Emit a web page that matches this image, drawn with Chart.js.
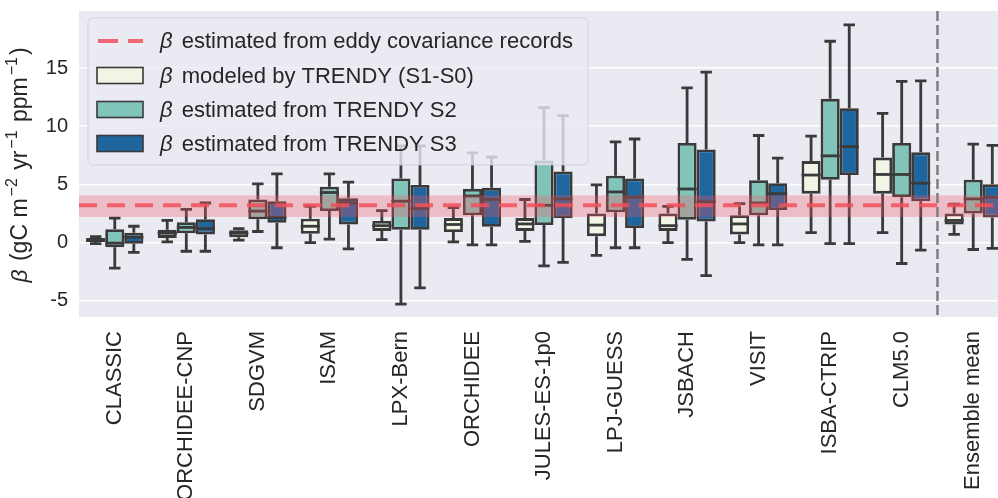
<!DOCTYPE html>
<html>
<head>
<meta charset="utf-8">
<script src="https://cdn.jsdelivr.net/npm/chart.js@4.4.1/dist/chart.umd.min.js"></script>
<style>
  html, body { margin: 0; padding: 0; background: #fff; overflow: hidden; }
  #wrap { width: 1009px; height: 498px; }
</style>
</head>
<body>
<div id="wrap"><canvas id="boxChart" width="1009" height="498"></canvas></div>
<script>
// categories and y ticks
const models = ['CLASSIC', 'ORCHIDEE-CNP', 'SDGVM', 'ISAM', 'LPX-Bern', 'ORCHIDEE', 'JULES-ES-1p0',
  'LPJ-GUESS', 'JSBACH', 'VISIT', 'ISBA-CTRIP', 'CLM5.0', 'Ensemble mean'];
const yTicks = [-5, 0, 5, 10, 15];

// beta modeled by TRENDY (S1-S0)
const s1s0Min = [-0.1, 0.05, 0.2, 0.0, 0.25, 0.05, 0.1, -1.1, 0.0, 0.0, 0.85, 0.85, 0.7];
const s1s0Q1 = [0.05, 0.4, 0.45, 0.75, 1.0, 0.9, 1.0, 0.55, 1.0, 0.7, 4.2, 4.2, 1.55];
const s1s0Med = [0.2, 0.8, 0.8, 1.4, 1.45, 1.55, 1.6, 1.5, 1.45, 1.6, 5.8, 5.85, 1.9];
const s1s0Q3 = [0.4, 1.1, 1.05, 2.05, 1.85, 2.1, 2.1, 2.5, 2.5, 2.35, 7.0, 7.3, 2.5];
const s1s0Max = [0.5, 1.9, 1.2, 3.1, 2.75, 3.0, 3.7, 4.95, 3.1, 3.35, 9.15, 11.1, 3.3];

// beta estimated from TRENDY S2
const s2Min = [-2.2, -0.75, 0.95, 0.3, -5.3, -0.2, -2.0, -0.45, -1.45, -0.2, -0.1, -1.8, -0.6];
const s2Q1 = [-0.4, 0.8, 2.0, 2.7, 1.1, 2.35, 1.5, 2.6, 1.95, 2.35, 5.4, 3.9, 2.5];
const s2Med = [-0.05, 1.3, 2.7, 4.3, 3.55, 4.0, 3.2, 4.35, 4.6, 3.4, 7.45, 5.85, 3.75];
const s2Q3 = [1.15, 1.75, 3.7, 4.8, 5.5, 4.6, 7.05, 5.75, 8.55, 5.35, 12.35, 8.55, 5.4];
const s2Max = [2.1, 2.85, 5.05, 5.9, 8.3, 7.7, 11.6, 8.65, 13.3, 9.2, 17.3, 13.85, 8.45];

// beta estimated from TRENDY S3
const s3Min = [-0.85, -0.75, -0.45, -0.55, -3.9, -0.2, -1.7, -0.45, -2.85, -0.2, -0.1, -0.65, -0.5];
const s3Q1 = [-0.1, 0.7, 1.7, 1.55, 1.1, 1.35, 2.1, 1.25, 1.8, 2.8, 5.8, 3.55, 2.15];
const s3Med = [0.45, 1.2, 2.15, 3.4, 2.95, 3.7, 3.75, 3.9, 3.5, 4.2, 8.25, 5.1, 3.9];
const s3Q3 = [0.85, 2.0, 3.55, 3.8, 4.95, 4.7, 6.1, 5.5, 8.0, 5.1, 11.55, 7.75, 5.0];
const s3Max = [1.4, 3.4, 5.9, 5.2, 8.3, 7.35, 10.9, 8.9, 14.65, 7.25, 18.7, 13.9, 8.35];

// eddy covariance estimate: line and its band
const eddyBeta = 3.2;
const eddyBand = [2.2, 4.05];

const FONT = '"Liberation Sans", Arial, sans-serif';
const EDGE = '#3a3a3a';
const series = [
  { label: 'modeled by TRENDY (S1-S0)', color: '#f0f5e6', min: s1s0Min, q1: s1s0Q1, med: s1s0Med, q3: s1s0Q3, max: s1s0Max },
  { label: 'estimated from TRENDY S2', color: '#80c4ba', min: s2Min, q1: s2Q1, med: s2Med, q3: s2Q3, max: s2Max },
  { label: 'estimated from TRENDY S3', color: '#1f659e', min: s3Min, q1: s3Q1, med: s3Med, q3: s3Q3, max: s3Max }
];

const boxPlugin = {
  id: 'boxExtras',
  beforeDraw(chart) {
    const a = chart.chartArea, ctx = chart.ctx;
    ctx.save();
    ctx.fillStyle = '#eaeaf2';
    ctx.fillRect(a.left, a.top, a.right - a.left, a.bottom - a.top);
    ctx.restore();
  },
  beforeDatasetsDraw(chart) {
    // whiskers and caps
    const ctx = chart.ctx, y = chart.scales.y, a = chart.chartArea;
    ctx.save();
    ctx.beginPath();
    ctx.rect(a.left, a.top, a.right - a.left, a.bottom - a.top);
    ctx.clip();
    ctx.strokeStyle = EDGE;
    ctx.lineWidth = 2.8;
    series.forEach((s, i) => {
      chart.getDatasetMeta(i).data.forEach((bar, j) => {
        const cap = bar.width * 0.3;
        [[s.q1[j], s.min[j]], [s.q3[j], s.max[j]]].forEach(([from, to]) => {
          const p0 = y.getPixelForValue(from), p1 = y.getPixelForValue(to);
          ctx.beginPath();
          ctx.moveTo(bar.x, p0); ctx.lineTo(bar.x, p1);
          ctx.moveTo(bar.x - cap, p1); ctx.lineTo(bar.x + cap, p1);
          ctx.stroke();
        });
      });
    });
    ctx.restore();
  },
  afterDatasetsDraw(chart) {
    const ctx = chart.ctx, y = chart.scales.y, x = chart.scales.x, a = chart.chartArea;
    ctx.save();
    ctx.beginPath();
    ctx.rect(a.left, a.top, a.right - a.left, a.bottom - a.top);
    ctx.clip();
    // medians
    ctx.strokeStyle = EDGE;
    ctx.lineWidth = 2.8;
    series.forEach((s, i) => {
      chart.getDatasetMeta(i).data.forEach((bar, j) => {
        const py = y.getPixelForValue(s.med[j]);
        ctx.beginPath();
        ctx.moveTo(bar.x - bar.width / 2, py); ctx.lineTo(bar.x + bar.width / 2, py);
        ctx.stroke();
      });
    });
    // eddy band and line
    const b0 = y.getPixelForValue(eddyBand[0]), b1 = y.getPixelForValue(eddyBand[1]);
    ctx.fillStyle = 'rgba(245, 85, 100, 0.3)';
    ctx.fillRect(a.left, b1, a.right - a.left, b0 - b1);
    const ly = y.getPixelForValue(eddyBeta);
    ctx.strokeStyle = 'rgba(242, 80, 90, 0.85)';
    ctx.lineWidth = 4;
    ctx.setLineDash([18, 10]);
    ctx.beginPath(); ctx.moveTo(a.left, ly); ctx.lineTo(a.right, ly); ctx.stroke();
    // separator before ensemble mean
    const sx = (x.getPixelForValue(models.length - 2) + x.getPixelForValue(models.length - 1)) / 2;
    ctx.strokeStyle = '#7f7f7f';
    ctx.lineWidth = 2.5;
    ctx.setLineDash([10, 4]);
    ctx.beginPath(); ctx.moveTo(sx, a.top); ctx.lineTo(sx, a.bottom); ctx.stroke();
    ctx.restore();

    drawLegend(ctx);
    drawYTitle(ctx, a);
  }
};

function drawBeta(ctx, text, x, y, size) {
  ctx.font = 'italic ' + size + 'px ' + FONT;
  ctx.fillText('β', x, y);
  const w = ctx.measureText('β ').width;
  ctx.font = size + 'px ' + FONT;
  ctx.fillText(text, x + w + 3, y);
}

function drawLegend(ctx) {
  const left = 88, top = 18, rowY = [41, 75.5, 109.5, 143.5], textX = 160, size = 22;
  const labels = ['estimated from eddy covariance records'].concat(series.map(s => s.label));
  ctx.save();
  ctx.font = size + 'px ' + FONT;
  let maxW = 0;
  labels.forEach(l => { maxW = Math.max(maxW, ctx.measureText('β  ' + l).width); });
  const w = textX + maxW + 12 - left, h = 147;
  ctx.beginPath();
  ctx.roundRect(left, top, w, h, 5);
  ctx.fillStyle = 'rgba(234, 234, 242, 0.8)';
  ctx.fill();
  ctx.strokeStyle = 'rgba(204, 204, 210, 0.8)';
  ctx.lineWidth = 1;
  ctx.stroke();
  // dashed red entry
  ctx.strokeStyle = 'rgba(242, 80, 90, 0.85)';
  ctx.lineWidth = 4;
  ctx.setLineDash([20, 10]);
  ctx.beginPath(); ctx.moveTo(98, rowY[0]); ctx.lineTo(143, rowY[0]); ctx.stroke();
  ctx.setLineDash([]);
  series.forEach((s, i) => {
    ctx.fillStyle = s.color;
    ctx.strokeStyle = EDGE;
    ctx.lineWidth = 1.6;
    ctx.fillRect(97, rowY[i + 1] - 8, 46, 16);
    ctx.strokeRect(97, rowY[i + 1] - 8, 46, 16);
  });
  ctx.fillStyle = '#262626';
  ctx.textBaseline = 'middle';
  labels.forEach((l, i) => drawBeta(ctx, l, textX, rowY[i] + 1, size));
  ctx.restore();
}

function drawYTitle(ctx, a) {
  // β (gC m^-2 yr^-1 ppm^-1), rotated
  const parts = [
    ['β', 'italic', 0], [' (gC m', '', 0], ['−2', '', 1], [' yr', '', 0], ['−1', '', 1], [' ppm', '', 0], ['−1', '', 1], [')', '', 0]
  ];
  ctx.save();
  const size = 23, sup = 16;
  const gap = 2;
  let total = 0;
  parts.forEach(p => {
    ctx.font = (p[1] ? p[1] + ' ' : '') + (p[2] ? sup : size) + 'px ' + FONT;
    total += ctx.measureText(p[0]).width + gap;
  });
  ctx.translate(21, (a.top + a.bottom) / 2);
  ctx.rotate(-Math.PI / 2);
  ctx.fillStyle = '#262626';
  ctx.textBaseline = 'middle';
  let cx = -total / 2;
  parts.forEach(p => {
    ctx.font = (p[1] ? p[1] + ' ' : '') + (p[2] ? sup : size) + 'px ' + FONT;
    ctx.fillText(p[0], cx, p[2] ? -8 : 0);
    cx += ctx.measureText(p[0]).width + gap;
  });
  ctx.restore();
}

const ctx = document.getElementById('boxChart').getContext('2d');
new Chart(ctx, {
  type: 'bar',
  data: {
    labels: models,
    datasets: series.map(s => ({
      label: s.label,
      data: s.q1.map((v, j) => [v, s.q3[j]]),
      backgroundColor: s.color,
      borderColor: EDGE,
      borderWidth: 2.8,
      borderSkipped: false,
      categoryPercentage: 0.8,
      barPercentage: 1.0
    }))
  },
  options: {
    responsive: false,
    animation: false,
    layout: { padding: { top: 11, left: 0, right: 0, bottom: 0 } },
    plugins: { legend: { display: false }, tooltip: { enabled: false } },
    scales: {
      x: {
        grid: { display: false },
        border: { display: false },
        ticks: {
          color: '#262626', font: { family: FONT, size: 22 },
          minRotation: 90, maxRotation: 90, autoSkip: false, padding: 6
        },
        afterFit(scale) { scale.height = 181; scale.paddingLeft = 0; scale.paddingRight = 0; }
      },
      y: {
        min: -6.4,
        max: 19.9,
        grid: { color: '#ffffff', lineWidth: 1.4, drawTicks: false },
        border: { display: false },
        ticks: { color: '#262626', font: { family: FONT, size: 20 }, padding: 11 },
        afterBuildTicks(scale) { scale.ticks = yTicks.map(v => ({ value: v })); },
        afterFit(scale) { scale.width = 79; scale.paddingTop = 0; scale.paddingBottom = 0; }
      }
    }
  },
  plugins: [boxPlugin]
});
</script>
</body>
</html>
